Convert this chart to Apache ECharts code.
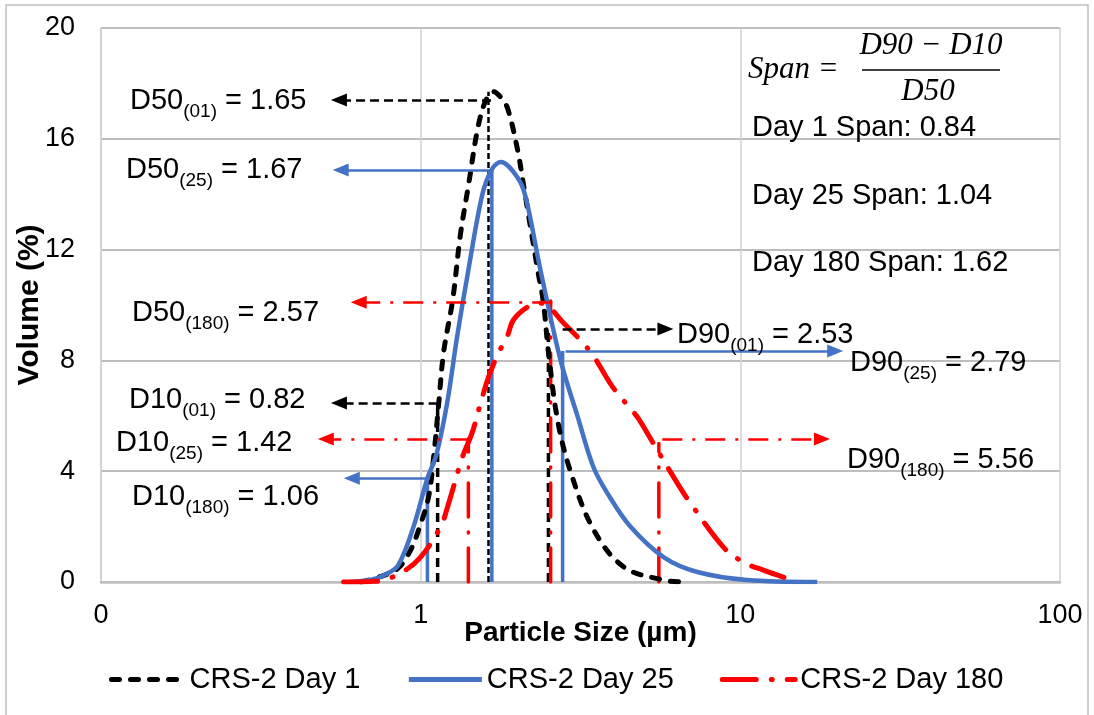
<!DOCTYPE html>
<html>
<head>
<meta charset="utf-8">
<script src="https://cdn.jsdelivr.net/npm/echarts@6/dist/echarts.min.js"></script>
<style>
  html, body { margin: 0; padding: 0; background: #fff; }
  #main { width: 1094px; height: 715px; }
</style>
</head>
<body>
<div id="main"></div>
<script>
const seriesNames = ['CRS-2 Day 1', 'CRS-2 Day 25', 'CRS-2 Day 180'];

// [particle size (um), volume (%)]
const day1 = [[0.65, 0], [0.75, 0.2], [0.85, 0.5], [0.93, 1.15], [1.0, 2.1], [1.06, 3.1], [1.1, 4.6],
  [1.14, 6.5], [1.18, 8.3], [1.26, 10.2], [1.33, 12.5], [1.41, 14.3], [1.51, 16.4], [1.6, 17.4],
  [1.69, 17.7], [1.78, 17.5], [1.87, 17.1], [2.01, 15.6], [2.1, 14.3], [2.32, 11.3], [2.42, 10.1],
  [2.51, 8.3], [2.68, 5.85], [2.94, 4.0], [3.47, 1.9], [4.31, 0.55], [5.75, 0.07], [6.73, 0]];
const day25 = [[0.6, 0], [0.7, 0.08], [0.77, 0.25], [0.85, 0.6], [0.95, 2.0], [1.05, 3.75], [1.12, 4.6],
  [1.21, 6.46], [1.3, 8.85], [1.41, 11.26], [1.56, 14.0], [1.67, 14.9], [1.78, 15.16], [2.01, 14.6],
  [2.13, 13.9], [2.37, 11.26], [2.74, 8.0], [3.1, 5.96], [3.47, 4.15], [3.84, 3.2], [4.53, 2.0],
  [5.75, 0.9], [7.34, 0.36], [10.5, 0.07], [17.4, 0]];
const day180 = [[0.574, 0], [0.7, 0.02], [0.766, 0.07], [0.878, 0.36], [1.0, 0.9], [1.155, 2.0],
  [1.213, 2.7], [1.35, 4.5], [1.45, 5.4], [1.54, 6.46], [1.63, 7.4], [1.74, 8.2], [1.87, 8.9],
  [1.95, 9.46], [2.16, 9.93], [2.37, 10.07], [2.8, 9.35], [3.4, 8.3], [4.01, 7.0], [4.76, 5.96],
  [5.16, 5.3], [6.35, 3.57], [6.98, 2.85], [8.85, 1.26], [10.2, 0.72], [11.8, 0.43], [15.1, 0]];

// D10 / D50 / D90 drop lines: [size, height]
const day1Drops = [[1.13, 6.46], [1.63, 17.7], [2.51, 9.1]];
const day25Drops = [[1.05, 3.75], [1.67, 14.9], [2.78, 8.34]];
const day180Drops = [[1.41, 5.16], [2.55, 10.14], [5.56, 5.0]];

// arrows: [from size, to size, volume]
const day1Arrows = [[1.13, 0.555, 6.46], [1.66, 0.555, 17.4], [2.78, 5.83, 9.13]];
const day25Arrows = [[1.07, 0.609, 3.75], [1.67, 0.562, 14.87], [2.84, 19.8, 8.34]];
const day180Arrows = [[1.43, 0.505, 5.16], [2.58, 0.64, 10.1], [5.7, 18.0, 5.16]];

const xTickValues = [0.1, 1, 10, 100];
const xTickLabels = ['0', '1', '10', '100'];

const FONT = 'Liberation Sans, Arial, sans-serif';
const colors = ['#000000', '#4472C4', '#FF0000'];
const curveDash = [[8, 11], 'solid', [34, 15, 1, 15]];
const thinDash = [[9, 5], 'solid', [20, 10, 3, 10]];

const curves = [day1, day25, day180];
const drops = [day1Drops, day25Drops, day180Drops];
const arrows = [day1Arrows, day25Arrows, day180Arrows];

const series = [];
curves.forEach((d, i) => {
  drops[i].forEach((p, j) => {
    series.push({
      type: 'line',
      data: [[p[0], 0], [p[0], p[1]]],
      symbol: 'none',
      silent: true,
      z: 2,
      lineStyle: {
        color: colors[i],
        width: i === 0 && j === 1 ? 2.5 : 3.5,
        type: i === 0 ? (j === 1 ? [6, 3] : [9, 6]) : curveDash[i],
        cap: i === 2 ? 'round' : 'butt'
      },
      markLine: {
        silent: true,
        symbol: ['none', 'triangle'],
        symbolSize: [13, 16],
        label: { show: false },
        lineStyle: { color: colors[i], width: 2.5, type: thinDash[i] },
        data: [[{ coord: [arrows[i][j][0], arrows[i][j][2]] }, { coord: [arrows[i][j][1], arrows[i][j][2]] }]]
      }
    });
  });
});
curves.forEach((d, i) => {
  series.push({
    name: seriesNames[i],
    type: 'line',
    data: d,
    symbol: 'none',
    smooth: 0.35,
    z: 3,
    lineStyle: { color: colors[i], width: i === 1 ? 4.5 : 5, type: curveDash[i], cap: i === 1 ? 'butt' : 'round' },
    itemStyle: { color: colors[i] }
  });
});

// text annotations
const rich = {
  m: { fontSize: 29, fontFamily: FONT, fill: '#000' },
  s: { fontSize: 19, fontFamily: FONT, fill: '#000', padding: [22, 0, 0, 0] }
};
const labelText = [
  ['D50', '(01)', ' = 1.65', 130, 101],
  ['D50', '(25)', ' = 1.67', 126, 170],
  ['D50', '(180)', ' = 2.57', 132, 313],
  ['D10', '(01)', ' = 0.82', 129, 400],
  ['D10', '(25)', ' = 1.42', 116, 443],
  ['D10', '(180)', ' = 1.06', 132, 497],
  ['D90', '(01)', ' = 2.53', 677, 335],
  ['D90', '(25)', ' = 2.79', 850, 363],
  ['D90', '(180)', ' = 5.56', 847, 460]
];
const graphic = labelText.map(t => ({
  type: 'text', x: t[3], y: t[4], silent: true, z: 10,
  style: { text: '{m|' + t[0] + '}{s|' + t[1] + '}{m|' + t[2] + '}', rich: rich, verticalAlign: 'middle' }
}));
const serif = 'italic 31px "Liberation Serif", "DejaVu Serif", serif';
graphic.push(
  { type: 'text', x: 748, y: 70, z: 10, style: { text: 'Span =', font: serif, fill: '#000', verticalAlign: 'middle' } },
  { type: 'text', x: 931, y: 46, z: 10, style: { text: 'D90 \u2212 D10', font: serif, fill: '#000', align: 'center', verticalAlign: 'middle' } },
  { type: 'line', z: 10, shape: { x1: 862, y1: 70, x2: 1000, y2: 70 }, style: { stroke: '#000', lineWidth: 1.5 } },
  { type: 'text', x: 928, y: 92, z: 10, style: { text: 'D50', font: serif, fill: '#000', align: 'center', verticalAlign: 'middle' } },
  { type: 'text', x: 752, y: 128, z: 10, style: { text: 'Day 1 Span: 0.84', font: '29px ' + FONT, fill: '#000', verticalAlign: 'middle' } },
  { type: 'text', x: 752, y: 196, z: 10, style: { text: 'Day 25 Span: 1.04', font: '29px ' + FONT, fill: '#000', verticalAlign: 'middle' } },
  { type: 'text', x: 752, y: 263, z: 10, style: { text: 'Day 180 Span: 1.62', font: '29px ' + FONT, fill: '#000', verticalAlign: 'middle' } },
  { type: 'rect', z: -1, shape: { x: 6, y: 5, width: 1082, height: 730 }, style: { fill: 'none', stroke: '#bfbfbf', lineWidth: 1.5 } }
);

const chart = echarts.init(document.getElementById('main'));
chart.setOption({
  animation: false,
  backgroundColor: '#fff',
  grid: { left: 101, right: 34, top: 28, bottom: 133, containLabel: false },
  legend: {
    data: seriesNames,
    left: 104,
    top: 660,
    itemWidth: 73,
    itemHeight: 14,
    itemGap: 46,
    itemStyle: { opacity: 0 },
    lineStyle: { width: 5 },
    textStyle: { fontSize: 29, fontFamily: FONT, color: '#000' }
  },
  xAxis: {
    type: 'log',
    logBase: 10,
    min: 0.1,
    max: 100,
    name: 'Particle Size (\u00b5m)',
    nameLocation: 'middle',
    nameGap: 37,
    nameMoveOverlap: false,
    nameTextStyle: { fontSize: 28, fontWeight: 'bold', fontFamily: FONT, color: '#000' },
    axisLine: { lineStyle: { color: '#bfbfbf', width: 2.5 } },
    axisTick: { show: false },
    axisLabel: {
      fontSize: 27, fontFamily: FONT, color: '#000', margin: 20,
      formatter: v => {
        const k = xTickValues.findIndex(t => Math.abs(t - v) / t < 1e-6);
        return k >= 0 ? xTickLabels[k] : '';
      }
    },
    splitLine: { show: true, lineStyle: { color: '#d0d0d0', width: 1.5 } }
  },
  yAxis: {
    type: 'value',
    min: 0,
    max: 20,
    interval: 4,
    name: 'Volume (%)',
    nameLocation: 'middle',
    nameGap: 56,
    nameMoveOverlap: false,
    nameTextStyle: { fontSize: 30, fontWeight: 'bold', fontFamily: FONT, color: '#000' },
    axisLine: { show: true, lineStyle: { color: '#d0d0d0', width: 1.5 } },
    axisTick: { show: false },
    axisLabel: { fontSize: 27, fontFamily: FONT, color: '#000', margin: 26 },
    splitLine: { lineStyle: { color: '#a8a8a8', width: 1.5 } }
  },
  graphic: graphic,
  series: series
});
</script>
</body>
</html>
